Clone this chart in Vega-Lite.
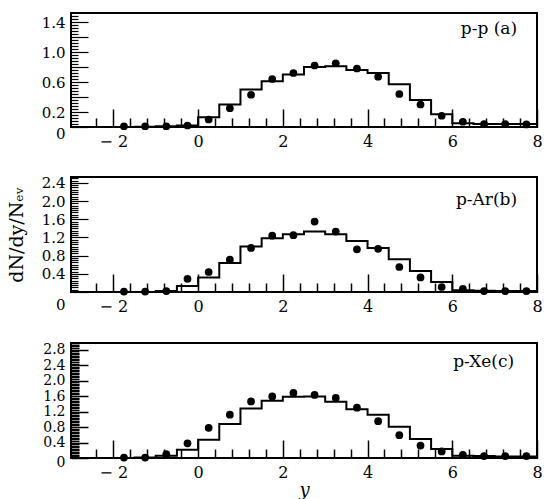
{
  "$schema": "https://vega.github.io/schema/vega-lite/v6.json",
  "background": "white",
  "padding": {"left": 6, "top": 7, "right": 0, "bottom": 0},
  "spacing": 11,
  "config": {
    "view": {"stroke": "black", "strokeWidth": 2},
    "axis": {"labelFont": "DejaVu Serif", "titleFont": "DejaVu Serif", "labelColor": "black", "titleColor": "black", "tickColor": "black", "domain": false, "grid": false, "labelOverlap": false, "zindex": 1, "titleFontWeight": "normal"},
    "axisX": {"labelFlush": false},
    "text": {"font": "DejaVu Serif", "fontSize": 17, "color": "black"}
  },
  "datasets": {
    "hist_a": [
      {"rapidity": -3, "dndy": 0}, {"rapidity": -2.5, "dndy": 0}, {"rapidity": -2, "dndy": 0}, {"rapidity": -1.5, "dndy": 0.005},
      {"rapidity": -1, "dndy": 0.01}, {"rapidity": -0.5, "dndy": 0.02}, {"rapidity": 0, "dndy": 0.13}, {"rapidity": 0.5, "dndy": 0.30},
      {"rapidity": 1, "dndy": 0.50}, {"rapidity": 1.5, "dndy": 0.61}, {"rapidity": 2, "dndy": 0.70}, {"rapidity": 2.5, "dndy": 0.80},
      {"rapidity": 3, "dndy": 0.81}, {"rapidity": 3.5, "dndy": 0.76}, {"rapidity": 4, "dndy": 0.72}, {"rapidity": 4.5, "dndy": 0.57},
      {"rapidity": 5, "dndy": 0.36}, {"rapidity": 5.5, "dndy": 0.17}, {"rapidity": 6, "dndy": 0.05}, {"rapidity": 6.5, "dndy": 0.04},
      {"rapidity": 7, "dndy": 0.04}, {"rapidity": 7.5, "dndy": 0.04}, {"rapidity": 8, "dndy": 0.04}
    ],
    "pts_a": [
      {"rapidity": -1.75, "dndy": 0.01}, {"rapidity": -1.25, "dndy": 0.01}, {"rapidity": -0.75, "dndy": 0.01}, {"rapidity": -0.25, "dndy": 0.02},
      {"rapidity": 0.25, "dndy": 0.10}, {"rapidity": 0.75, "dndy": 0.25}, {"rapidity": 1.25, "dndy": 0.43}, {"rapidity": 1.75, "dndy": 0.64},
      {"rapidity": 2.25, "dndy": 0.72}, {"rapidity": 2.75, "dndy": 0.82}, {"rapidity": 3.25, "dndy": 0.85}, {"rapidity": 3.75, "dndy": 0.78},
      {"rapidity": 4.25, "dndy": 0.67}, {"rapidity": 4.75, "dndy": 0.44}, {"rapidity": 5.25, "dndy": 0.30}, {"rapidity": 5.75, "dndy": 0.15},
      {"rapidity": 6.25, "dndy": 0.07}, {"rapidity": 6.75, "dndy": 0.04}, {"rapidity": 7.25, "dndy": 0.04}, {"rapidity": 7.75, "dndy": 0.035}
    ],
    "hist_b": [
      {"rapidity": -3, "dndy": 0}, {"rapidity": -2.5, "dndy": 0}, {"rapidity": -2, "dndy": 0}, {"rapidity": -1.5, "dndy": 0},
      {"rapidity": -1, "dndy": 0.02}, {"rapidity": -0.5, "dndy": 0.13}, {"rapidity": 0, "dndy": 0.32}, {"rapidity": 0.5, "dndy": 0.64},
      {"rapidity": 1, "dndy": 1.0}, {"rapidity": 1.5, "dndy": 1.18}, {"rapidity": 2, "dndy": 1.27}, {"rapidity": 2.5, "dndy": 1.33},
      {"rapidity": 3, "dndy": 1.27}, {"rapidity": 3.5, "dndy": 1.12}, {"rapidity": 4, "dndy": 0.97}, {"rapidity": 4.5, "dndy": 0.72},
      {"rapidity": 5, "dndy": 0.46}, {"rapidity": 5.5, "dndy": 0.22}, {"rapidity": 6, "dndy": 0.04}, {"rapidity": 6.5, "dndy": 0.03},
      {"rapidity": 7, "dndy": 0.02}, {"rapidity": 7.5, "dndy": 0.02}, {"rapidity": 8, "dndy": 0.02}
    ],
    "pts_b": [
      {"rapidity": -1.75, "dndy": 0.01}, {"rapidity": -1.25, "dndy": 0.01}, {"rapidity": -0.75, "dndy": 0.02}, {"rapidity": -0.25, "dndy": 0.29},
      {"rapidity": 0.25, "dndy": 0.44}, {"rapidity": 0.75, "dndy": 0.71}, {"rapidity": 1.25, "dndy": 0.97}, {"rapidity": 1.75, "dndy": 1.24},
      {"rapidity": 2.25, "dndy": 1.25}, {"rapidity": 2.75, "dndy": 1.55}, {"rapidity": 3.25, "dndy": 1.33}, {"rapidity": 3.75, "dndy": 0.94},
      {"rapidity": 4.25, "dndy": 0.95}, {"rapidity": 4.75, "dndy": 0.55}, {"rapidity": 5.25, "dndy": 0.32}, {"rapidity": 5.75, "dndy": 0.11},
      {"rapidity": 6.25, "dndy": 0.07}, {"rapidity": 6.75, "dndy": 0.02}, {"rapidity": 7.25, "dndy": 0.02}, {"rapidity": 7.75, "dndy": 0.02}
    ],
    "hist_c": [
      {"rapidity": -3, "dndy": 0}, {"rapidity": -2.5, "dndy": 0}, {"rapidity": -2, "dndy": 0}, {"rapidity": -1.5, "dndy": 0.01},
      {"rapidity": -1, "dndy": 0.06}, {"rapidity": -0.5, "dndy": 0.21}, {"rapidity": 0, "dndy": 0.47}, {"rapidity": 0.5, "dndy": 0.88},
      {"rapidity": 1, "dndy": 1.28}, {"rapidity": 1.5, "dndy": 1.48}, {"rapidity": 2, "dndy": 1.58}, {"rapidity": 2.5, "dndy": 1.59},
      {"rapidity": 3, "dndy": 1.45}, {"rapidity": 3.5, "dndy": 1.26}, {"rapidity": 4, "dndy": 1.12}, {"rapidity": 4.5, "dndy": 0.81},
      {"rapidity": 5, "dndy": 0.49}, {"rapidity": 5.5, "dndy": 0.23}, {"rapidity": 6, "dndy": 0.06}, {"rapidity": 6.5, "dndy": 0.05},
      {"rapidity": 7, "dndy": 0.04}, {"rapidity": 7.5, "dndy": 0.04}, {"rapidity": 8, "dndy": 0.04}
    ],
    "pts_c": [
      {"rapidity": -1.75, "dndy": 0.01}, {"rapidity": -1.25, "dndy": 0.01}, {"rapidity": -0.75, "dndy": 0.1}, {"rapidity": -0.25, "dndy": 0.38},
      {"rapidity": 0.25, "dndy": 0.78}, {"rapidity": 0.75, "dndy": 1.12}, {"rapidity": 1.25, "dndy": 1.46}, {"rapidity": 1.75, "dndy": 1.59},
      {"rapidity": 2.25, "dndy": 1.68}, {"rapidity": 2.75, "dndy": 1.63}, {"rapidity": 3.25, "dndy": 1.55}, {"rapidity": 3.75, "dndy": 1.30},
      {"rapidity": 4.25, "dndy": 0.95}, {"rapidity": 4.75, "dndy": 0.59}, {"rapidity": 5.25, "dndy": 0.32}, {"rapidity": 5.75, "dndy": 0.17},
      {"rapidity": 6.25, "dndy": 0.08}, {"rapidity": 6.75, "dndy": 0.05}, {"rapidity": 7.25, "dndy": 0.05}, {"rapidity": 7.75, "dndy": 0.05}
    ],
    "label_a": [{"label": "p-p  (a)"}],
    "label_b": [{"label": "p-Ar(b)"}],
    "label_c": [{"label": "p-Xe(c)"}]
  },
  "vconcat": [
    {
      "width": 466, "height": 114,
      "layer": [
        {"data": {"name": "hist_a"}, "mark": {"type": "line", "interpolate": "step-after", "color": "black", "strokeWidth": 2},
          "encoding": {
            "x": {"field": "rapidity", "type": "quantitative", "scale": {"domain": [-3, 8], "nice": false, "zero": false},
              "axis": {"title": null, "values": [-2.4, -2, -1.6, -1.2, -0.8, -0.4, 0, 0.4, 0.8, 1.2, 1.6, 2, 2.4, 2.8, 3.2, 3.6, 4, 4.4, 4.8, 5.2, 5.6, 6, 6.4, 6.8, 7.2, 7.6, 8],
                "tickSize": {"condition": {"test": "abs(datum.value/2 - round(datum.value/2)) < 0.001", "value": -18}, "value": -9},
                "tickWidth": 1.5, "labelFontSize": 16, "labelPadding": 24,
                "labelExpr": "abs(datum.value/2 - round(datum.value/2)) < 0.001 ? (datum.value < 0 ? '\u2212 ' + format(-datum.value, 'd') : format(datum.value, 'd')) : ''"}},
            "y": {"field": "dndy", "type": "quantitative", "scale": {"domain": [0, 1.52], "nice": false},
              "axis": {"title": null, "values": [0, 0.04, 0.08, 0.12, 0.16, 0.2, 0.24, 0.28, 0.32, 0.36, 0.4, 0.44, 0.48, 0.52, 0.56, 0.6, 0.64, 0.68, 0.72, 0.76, 0.8, 0.84, 0.88, 0.92, 0.96, 1, 1.04, 1.08, 1.12, 1.16, 1.2, 1.24, 1.28, 1.32, 1.36, 1.4, 1.44, 1.48],
                "tickSize": {"condition": {"test": "abs(datum.value*5 - round(datum.value*5)) < 0.001", "value": -17}, "value": -7},
                "tickWidth": 1.2, "labelFontSize": 15, "labelPadding": 23,
                "labelOffset": {"condition": {"test": "datum.value == 0", "value": 6}, "value": 0},
                "labelExpr": "abs(datum.value*5 - round(datum.value*5)) < 0.001 && (round(datum.value*5) == 0 || round(datum.value*5) % 2 == 1) ? (round(datum.value*5) == 0 ? '0' : format(datum.value, '.1f')) : ''"}}
          }},
        {"data": {"name": "pts_a"}, "mark": {"type": "point", "filled": true, "color": "black", "opacity": 1, "size": 60},
          "encoding": {
            "x": {"field": "rapidity", "type": "quantitative", "scale": {"domain": [-3, 8], "nice": false, "zero": false},
              "axis": {"title": null, "values": [-2.4, -2, -1.6, -1.2, -0.8, -0.4, 0, 0.4, 0.8, 1.2, 1.6, 2, 2.4, 2.8, 3.2, 3.6, 4, 4.4, 4.8, 5.2, 5.6, 6, 6.4, 6.8, 7.2, 7.6, 8],
                "tickSize": {"condition": {"test": "abs(datum.value/2 - round(datum.value/2)) < 0.001", "value": -18}, "value": -9},
                "tickWidth": 1.5, "labelFontSize": 16, "labelPadding": 24,
                "labelExpr": "abs(datum.value/2 - round(datum.value/2)) < 0.001 ? (datum.value < 0 ? '\u2212 ' + format(-datum.value, 'd') : format(datum.value, 'd')) : ''"}},
            "y": {"field": "dndy", "type": "quantitative", "scale": {"domain": [0, 1.52], "nice": false},
              "axis": {"title": null, "values": [0, 0.04, 0.08, 0.12, 0.16, 0.2, 0.24, 0.28, 0.32, 0.36, 0.4, 0.44, 0.48, 0.52, 0.56, 0.6, 0.64, 0.68, 0.72, 0.76, 0.8, 0.84, 0.88, 0.92, 0.96, 1, 1.04, 1.08, 1.12, 1.16, 1.2, 1.24, 1.28, 1.32, 1.36, 1.4, 1.44, 1.48],
                "tickSize": {"condition": {"test": "abs(datum.value*5 - round(datum.value*5)) < 0.001", "value": -17}, "value": -7},
                "tickWidth": 1.2, "labelFontSize": 15, "labelPadding": 23,
                "labelOffset": {"condition": {"test": "datum.value == 0", "value": 6}, "value": 0},
                "labelExpr": "abs(datum.value*5 - round(datum.value*5)) < 0.001 && (round(datum.value*5) == 0 || round(datum.value*5) % 2 == 1) ? (round(datum.value*5) == 0 ? '0' : format(datum.value, '.1f')) : ''"}}
          }},
        {"data": {"name": "label_a"}, "mark": {"type": "text", "align": "right", "baseline": "alphabetic"},
          "encoding": {
            "x": {"datum": 7.53, "type": "quantitative", "scale": {"domain": [-3, 8], "nice": false, "zero": false},
              "axis": {"title": null, "values": [-2.4, -2, -1.6, -1.2, -0.8, -0.4, 0, 0.4, 0.8, 1.2, 1.6, 2, 2.4, 2.8, 3.2, 3.6, 4, 4.4, 4.8, 5.2, 5.6, 6, 6.4, 6.8, 7.2, 7.6, 8],
                "tickSize": {"condition": {"test": "abs(datum.value/2 - round(datum.value/2)) < 0.001", "value": -18}, "value": -9},
                "tickWidth": 1.5, "labelFontSize": 16, "labelPadding": 24,
                "labelExpr": "abs(datum.value/2 - round(datum.value/2)) < 0.001 ? (datum.value < 0 ? '\u2212 ' + format(-datum.value, 'd') : format(datum.value, 'd')) : ''"}},
            "y": {"datum": 1.24, "type": "quantitative", "scale": {"domain": [0, 1.52], "nice": false},
              "axis": {"title": null, "values": [0, 0.04, 0.08, 0.12, 0.16, 0.2, 0.24, 0.28, 0.32, 0.36, 0.4, 0.44, 0.48, 0.52, 0.56, 0.6, 0.64, 0.68, 0.72, 0.76, 0.8, 0.84, 0.88, 0.92, 0.96, 1, 1.04, 1.08, 1.12, 1.16, 1.2, 1.24, 1.28, 1.32, 1.36, 1.4, 1.44, 1.48],
                "tickSize": {"condition": {"test": "abs(datum.value*5 - round(datum.value*5)) < 0.001", "value": -17}, "value": -7},
                "tickWidth": 1.2, "labelFontSize": 15, "labelPadding": 23,
                "labelOffset": {"condition": {"test": "datum.value == 0", "value": 6}, "value": 0},
                "labelExpr": "abs(datum.value*5 - round(datum.value*5)) < 0.001 && (round(datum.value*5) == 0 || round(datum.value*5) % 2 == 1) ? (round(datum.value*5) == 0 ? '0' : format(datum.value, '.1f')) : ''"}},
            "text": {"field": "label"}}}
      ]
    },
    {
      "width": 466, "height": 115,
      "layer": [
        {"data": {"name": "hist_b"}, "mark": {"type": "line", "interpolate": "step-after", "color": "black", "strokeWidth": 2},
          "encoding": {
            "x": {"field": "rapidity", "type": "quantitative", "scale": {"domain": [-3, 8], "nice": false, "zero": false},
              "axis": {"title": null, "values": [-2.4, -2, -1.6, -1.2, -0.8, -0.4, 0, 0.4, 0.8, 1.2, 1.6, 2, 2.4, 2.8, 3.2, 3.6, 4, 4.4, 4.8, 5.2, 5.6, 6, 6.4, 6.8, 7.2, 7.6, 8],
                "tickSize": {"condition": {"test": "abs(datum.value/2 - round(datum.value/2)) < 0.001", "value": -18}, "value": -9},
                "tickWidth": 1.5, "labelFontSize": 16, "labelPadding": 24,
                "labelExpr": "abs(datum.value/2 - round(datum.value/2)) < 0.001 ? (datum.value < 0 ? '\u2212 ' + format(-datum.value, 'd') : format(datum.value, 'd')) : ''"}},
            "y": {"field": "dndy", "type": "quantitative", "scale": {"domain": [0, 2.53], "nice": false},
              "axis": {"title": "dN/dy/N\u2091\u1d65", "titleFontSize": 19, "titlePadding": 15,
                "values": [0, 0.05, 0.1, 0.15, 0.2, 0.25, 0.3, 0.35, 0.4, 0.45, 0.5, 0.55, 0.6, 0.65, 0.7, 0.75, 0.8, 0.85, 0.9, 0.95, 1, 1.05, 1.1, 1.15, 1.2, 1.25, 1.3, 1.35, 1.4, 1.45, 1.5, 1.55, 1.6, 1.65, 1.7, 1.75, 1.8, 1.85, 1.9, 1.95, 2, 2.05, 2.1, 2.15, 2.2, 2.25, 2.3, 2.35, 2.4, 2.45, 2.5],
                "tickSize": {"condition": {"test": "abs(datum.value*2.5 - round(datum.value*2.5)) < 0.001", "value": -17}, "value": -7},
                "tickWidth": 1.2, "labelFontSize": 15, "labelPadding": 23,
                "labelOffset": {"condition": {"test": "datum.value == 0", "value": 12}, "value": 0},
                "labelExpr": "abs(datum.value*2.5 - round(datum.value*2.5)) < 0.001 ? (round(datum.value*2.5) == 0 ? '0' : format(datum.value, '.1f')) : ''"}}
          }},
        {"data": {"name": "pts_b"}, "mark": {"type": "point", "filled": true, "color": "black", "opacity": 1, "size": 60},
          "encoding": {
            "x": {"field": "rapidity", "type": "quantitative", "scale": {"domain": [-3, 8], "nice": false, "zero": false},
              "axis": {"title": null, "values": [-2.4, -2, -1.6, -1.2, -0.8, -0.4, 0, 0.4, 0.8, 1.2, 1.6, 2, 2.4, 2.8, 3.2, 3.6, 4, 4.4, 4.8, 5.2, 5.6, 6, 6.4, 6.8, 7.2, 7.6, 8],
                "tickSize": {"condition": {"test": "abs(datum.value/2 - round(datum.value/2)) < 0.001", "value": -18}, "value": -9},
                "tickWidth": 1.5, "labelFontSize": 16, "labelPadding": 24,
                "labelExpr": "abs(datum.value/2 - round(datum.value/2)) < 0.001 ? (datum.value < 0 ? '\u2212 ' + format(-datum.value, 'd') : format(datum.value, 'd')) : ''"}},
            "y": {"field": "dndy", "type": "quantitative", "scale": {"domain": [0, 2.53], "nice": false},
              "axis": {"title": "dN/dy/N\u2091\u1d65", "titleFontSize": 19, "titlePadding": 15,
                "values": [0, 0.05, 0.1, 0.15, 0.2, 0.25, 0.3, 0.35, 0.4, 0.45, 0.5, 0.55, 0.6, 0.65, 0.7, 0.75, 0.8, 0.85, 0.9, 0.95, 1, 1.05, 1.1, 1.15, 1.2, 1.25, 1.3, 1.35, 1.4, 1.45, 1.5, 1.55, 1.6, 1.65, 1.7, 1.75, 1.8, 1.85, 1.9, 1.95, 2, 2.05, 2.1, 2.15, 2.2, 2.25, 2.3, 2.35, 2.4, 2.45, 2.5],
                "tickSize": {"condition": {"test": "abs(datum.value*2.5 - round(datum.value*2.5)) < 0.001", "value": -17}, "value": -7},
                "tickWidth": 1.2, "labelFontSize": 15, "labelPadding": 23,
                "labelOffset": {"condition": {"test": "datum.value == 0", "value": 12}, "value": 0},
                "labelExpr": "abs(datum.value*2.5 - round(datum.value*2.5)) < 0.001 ? (round(datum.value*2.5) == 0 ? '0' : format(datum.value, '.1f')) : ''"}}
          }},
        {"data": {"name": "label_b"}, "mark": {"type": "text", "align": "right", "baseline": "alphabetic"},
          "encoding": {
            "x": {"datum": 7.53, "type": "quantitative", "scale": {"domain": [-3, 8], "nice": false, "zero": false},
              "axis": {"title": null, "values": [-2.4, -2, -1.6, -1.2, -0.8, -0.4, 0, 0.4, 0.8, 1.2, 1.6, 2, 2.4, 2.8, 3.2, 3.6, 4, 4.4, 4.8, 5.2, 5.6, 6, 6.4, 6.8, 7.2, 7.6, 8],
                "tickSize": {"condition": {"test": "abs(datum.value/2 - round(datum.value/2)) < 0.001", "value": -18}, "value": -9},
                "tickWidth": 1.5, "labelFontSize": 16, "labelPadding": 24,
                "labelExpr": "abs(datum.value/2 - round(datum.value/2)) < 0.001 ? (datum.value < 0 ? '\u2212 ' + format(-datum.value, 'd') : format(datum.value, 'd')) : ''"}},
            "y": {"datum": 1.91, "type": "quantitative", "scale": {"domain": [0, 2.53], "nice": false},
              "axis": {"title": "dN/dy/N\u2091\u1d65", "titleFontSize": 19, "titlePadding": 15,
                "values": [0, 0.05, 0.1, 0.15, 0.2, 0.25, 0.3, 0.35, 0.4, 0.45, 0.5, 0.55, 0.6, 0.65, 0.7, 0.75, 0.8, 0.85, 0.9, 0.95, 1, 1.05, 1.1, 1.15, 1.2, 1.25, 1.3, 1.35, 1.4, 1.45, 1.5, 1.55, 1.6, 1.65, 1.7, 1.75, 1.8, 1.85, 1.9, 1.95, 2, 2.05, 2.1, 2.15, 2.2, 2.25, 2.3, 2.35, 2.4, 2.45, 2.5],
                "tickSize": {"condition": {"test": "abs(datum.value*2.5 - round(datum.value*2.5)) < 0.001", "value": -17}, "value": -7},
                "tickWidth": 1.2, "labelFontSize": 15, "labelPadding": 23,
                "labelOffset": {"condition": {"test": "datum.value == 0", "value": 12}, "value": 0},
                "labelExpr": "abs(datum.value*2.5 - round(datum.value*2.5)) < 0.001 ? (round(datum.value*2.5) == 0 ? '0' : format(datum.value, '.1f')) : ''"}},
            "text": {"field": "label"}}}
      ]
    },
    {
      "width": 466, "height": 115,
      "layer": [
        {"data": {"name": "hist_c"}, "mark": {"type": "line", "interpolate": "step-after", "color": "black", "strokeWidth": 2},
          "encoding": {
            "x": {"field": "rapidity", "type": "quantitative", "scale": {"domain": [-3, 8], "nice": false, "zero": false},
              "axis": {"title": "y", "titleFontSize": 18, "titleFontStyle": "italic", "titleBaseline": "alphabetic", "titleY": 37,
                "values": [-2.4, -2, -1.6, -1.2, -0.8, -0.4, 0, 0.4, 0.8, 1.2, 1.6, 2, 2.4, 2.8, 3.2, 3.6, 4, 4.4, 4.8, 5.2, 5.6, 6, 6.4, 6.8, 7.2, 7.6, 8],
                "tickSize": {"condition": {"test": "abs(datum.value/2 - round(datum.value/2)) < 0.001", "value": -18}, "value": -9},
                "tickWidth": 1.5, "labelFontSize": 16, "labelPadding": 24,
                "labelExpr": "abs(datum.value/2 - round(datum.value/2)) < 0.001 ? (datum.value < 0 ? '\u2212 ' + format(-datum.value, 'd') : format(datum.value, 'd')) : ''"}},
            "y": {"field": "dndy", "type": "quantitative", "scale": {"domain": [0, 2.97], "nice": false},
              "axis": {"title": null,
                "values": [0, 0.04, 0.08, 0.12, 0.16, 0.2, 0.24, 0.28, 0.32, 0.36, 0.4, 0.44, 0.48, 0.52, 0.56, 0.6, 0.64, 0.68, 0.72, 0.76, 0.8, 0.84, 0.88, 0.92, 0.96, 1, 1.04, 1.08, 1.12, 1.16, 1.2, 1.24, 1.28, 1.32, 1.36, 1.4, 1.44, 1.48, 1.52, 1.56, 1.6, 1.64, 1.68, 1.72, 1.76, 1.8, 1.84, 1.88, 1.92, 1.96, 2, 2.04, 2.08, 2.12, 2.16, 2.2, 2.24, 2.28, 2.32, 2.36, 2.4, 2.44, 2.48, 2.52, 2.56, 2.6, 2.64, 2.68, 2.72, 2.76, 2.8, 2.84, 2.88, 2.92, 2.96],
                "tickSize": {"condition": {"test": "abs(datum.value*2.5 - round(datum.value*2.5)) < 0.001", "value": -17}, "value": -8},
                "tickWidth": 1.5, "labelFontSize": 14, "labelPadding": 23,
                "labelOffset": {"condition": {"test": "datum.value == 0", "value": 4}, "value": 0},
                "labelExpr": "abs(datum.value*2.5 - round(datum.value*2.5)) < 0.001 ? (round(datum.value*2.5) == 0 ? '0' : format(datum.value, '.1f')) : ''"}}
          }},
        {"data": {"name": "pts_c"}, "mark": {"type": "point", "filled": true, "color": "black", "opacity": 1, "size": 60},
          "encoding": {
            "x": {"field": "rapidity", "type": "quantitative", "scale": {"domain": [-3, 8], "nice": false, "zero": false},
              "axis": {"title": "y", "titleFontSize": 18, "titleFontStyle": "italic", "titleBaseline": "alphabetic", "titleY": 37,
                "values": [-2.4, -2, -1.6, -1.2, -0.8, -0.4, 0, 0.4, 0.8, 1.2, 1.6, 2, 2.4, 2.8, 3.2, 3.6, 4, 4.4, 4.8, 5.2, 5.6, 6, 6.4, 6.8, 7.2, 7.6, 8],
                "tickSize": {"condition": {"test": "abs(datum.value/2 - round(datum.value/2)) < 0.001", "value": -18}, "value": -9},
                "tickWidth": 1.5, "labelFontSize": 16, "labelPadding": 24,
                "labelExpr": "abs(datum.value/2 - round(datum.value/2)) < 0.001 ? (datum.value < 0 ? '\u2212 ' + format(-datum.value, 'd') : format(datum.value, 'd')) : ''"}},
            "y": {"field": "dndy", "type": "quantitative", "scale": {"domain": [0, 2.97], "nice": false},
              "axis": {"title": null,
                "values": [0, 0.04, 0.08, 0.12, 0.16, 0.2, 0.24, 0.28, 0.32, 0.36, 0.4, 0.44, 0.48, 0.52, 0.56, 0.6, 0.64, 0.68, 0.72, 0.76, 0.8, 0.84, 0.88, 0.92, 0.96, 1, 1.04, 1.08, 1.12, 1.16, 1.2, 1.24, 1.28, 1.32, 1.36, 1.4, 1.44, 1.48, 1.52, 1.56, 1.6, 1.64, 1.68, 1.72, 1.76, 1.8, 1.84, 1.88, 1.92, 1.96, 2, 2.04, 2.08, 2.12, 2.16, 2.2, 2.24, 2.28, 2.32, 2.36, 2.4, 2.44, 2.48, 2.52, 2.56, 2.6, 2.64, 2.68, 2.72, 2.76, 2.8, 2.84, 2.88, 2.92, 2.96],
                "tickSize": {"condition": {"test": "abs(datum.value*2.5 - round(datum.value*2.5)) < 0.001", "value": -17}, "value": -8},
                "tickWidth": 1.5, "labelFontSize": 14, "labelPadding": 23,
                "labelOffset": {"condition": {"test": "datum.value == 0", "value": 4}, "value": 0},
                "labelExpr": "abs(datum.value*2.5 - round(datum.value*2.5)) < 0.001 ? (round(datum.value*2.5) == 0 ? '0' : format(datum.value, '.1f')) : ''"}}
          }},
        {"data": {"name": "label_c"}, "mark": {"type": "text", "align": "right", "baseline": "alphabetic"},
          "encoding": {
            "x": {"datum": 7.46, "type": "quantitative", "scale": {"domain": [-3, 8], "nice": false, "zero": false},
              "axis": {"title": "y", "titleFontSize": 18, "titleFontStyle": "italic", "titleBaseline": "alphabetic", "titleY": 37,
                "values": [-2.4, -2, -1.6, -1.2, -0.8, -0.4, 0, 0.4, 0.8, 1.2, 1.6, 2, 2.4, 2.8, 3.2, 3.6, 4, 4.4, 4.8, 5.2, 5.6, 6, 6.4, 6.8, 7.2, 7.6, 8],
                "tickSize": {"condition": {"test": "abs(datum.value/2 - round(datum.value/2)) < 0.001", "value": -18}, "value": -9},
                "tickWidth": 1.5, "labelFontSize": 16, "labelPadding": 24,
                "labelExpr": "abs(datum.value/2 - round(datum.value/2)) < 0.001 ? (datum.value < 0 ? '\u2212 ' + format(-datum.value, 'd') : format(datum.value, 'd')) : ''"}},
            "y": {"datum": 2.35, "type": "quantitative", "scale": {"domain": [0, 2.97], "nice": false},
              "axis": {"title": null,
                "values": [0, 0.04, 0.08, 0.12, 0.16, 0.2, 0.24, 0.28, 0.32, 0.36, 0.4, 0.44, 0.48, 0.52, 0.56, 0.6, 0.64, 0.68, 0.72, 0.76, 0.8, 0.84, 0.88, 0.92, 0.96, 1, 1.04, 1.08, 1.12, 1.16, 1.2, 1.24, 1.28, 1.32, 1.36, 1.4, 1.44, 1.48, 1.52, 1.56, 1.6, 1.64, 1.68, 1.72, 1.76, 1.8, 1.84, 1.88, 1.92, 1.96, 2, 2.04, 2.08, 2.12, 2.16, 2.2, 2.24, 2.28, 2.32, 2.36, 2.4, 2.44, 2.48, 2.52, 2.56, 2.6, 2.64, 2.68, 2.72, 2.76, 2.8, 2.84, 2.88, 2.92, 2.96],
                "tickSize": {"condition": {"test": "abs(datum.value*2.5 - round(datum.value*2.5)) < 0.001", "value": -17}, "value": -8},
                "tickWidth": 1.5, "labelFontSize": 14, "labelPadding": 23,
                "labelOffset": {"condition": {"test": "datum.value == 0", "value": 4}, "value": 0},
                "labelExpr": "abs(datum.value*2.5 - round(datum.value*2.5)) < 0.001 ? (round(datum.value*2.5) == 0 ? '0' : format(datum.value, '.1f')) : ''"}},
            "text": {"field": "label"}}}
      ]
    }
  ]
}
